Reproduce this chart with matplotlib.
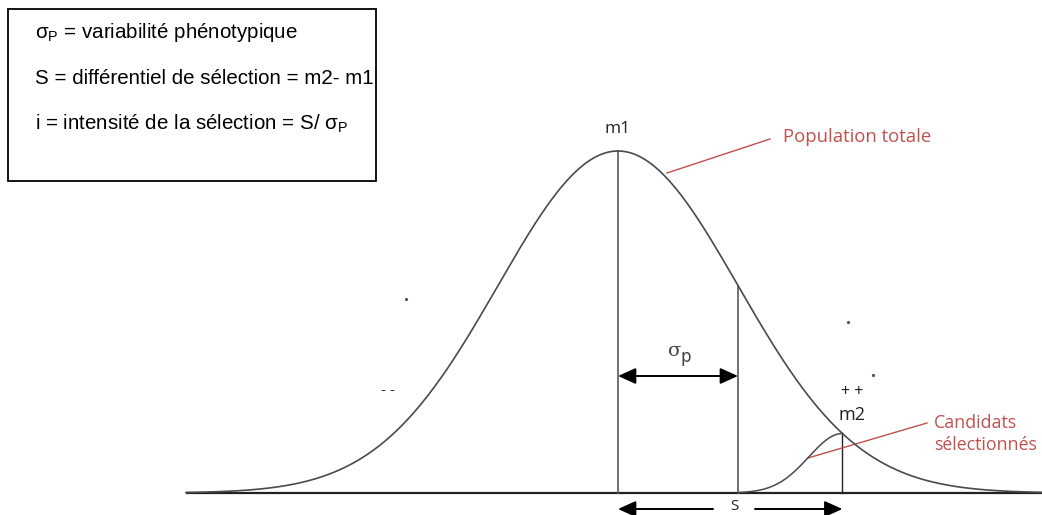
import numpy as np
import matplotlib
matplotlib.use("Agg")
import matplotlib.pyplot as plt
from matplotlib.patches import Rectangle

# ---- data (in units of phenotypic standard deviation) ----
m1 = 0.0              # mean of total population
sigma_p = 1.0         # phenotypic standard deviation
m2 = 1.87             # mean of selected candidates
sel_sigma = 0.28      # spread of selected candidates (rising side)
x_range = [-3.6, 3.55]
box_lines = [
    r"σ$_{\mathregular{P}}$ = variabilité phénotypique",
    "S = différentiel de sélection = m2- m1",
    r"i = intensité de la sélection = S/ σ$_{\mathregular{P}}$",
]
label_total = "Population totale"
label_sel = "Candidats\nsélectionnés"

plt.rcParams['mathtext.fontset'] = 'custom'
plt.rcParams['mathtext.rm'] = 'Liberation Sans'

W, H = 1042, 515
fig = plt.figure(figsize=(W / 100, H / 100), dpi=100)
ax = fig.add_axes([0, 0, 1, 1])
# pixel -> data helpers (120 px per sigma, 342 px per unit height)
X0, Y0, SX, SY = 618, 493, 120.0, 342.0
def X(px): return (px - X0) / SX
def Y(py): return (Y0 - py) / SY
ax.set_xlim(X(0), X(W))
ax.set_ylim(Y(H), Y(0))
ax.axis('off')

def gauss(x, mu, s):
    return np.exp(-0.5 * ((x - mu) / s) ** 2)

curve_col = '#4a4a4a'
vline_col = '#5a5a5a'
red = '#c0504d'

# baseline
ax.plot([x_range[0], X(W)], [0, 0], color='#222222', lw=1.6, solid_capstyle='butt', zorder=2)
# total population curve
xs = np.linspace(x_range[0], X(W) + 0.1, 800)
ax.plot(xs, gauss(xs, m1, sigma_p), color=curve_col, lw=1.2, zorder=3)

# selected candidates (rising half up to m2)
h_m2 = gauss(m2, m1, sigma_p)
xs2 = np.linspace(m1 + sigma_p, m2, 300)
ax.plot(xs2, h_m2 * gauss(xs2, m2, sel_sigma), color=curve_col, lw=1.1, zorder=3)

# vertical lines
ax.plot([m1, m1], [0, 1.0], color=vline_col, lw=1.2, zorder=2)
ax.plot([m1 + sigma_p, m1 + sigma_p], [0, gauss(m1 + sigma_p, m1, sigma_p)], color=vline_col, lw=1.2, zorder=2)
ax.plot([m2, m2], [0, h_m2], color='#222222', lw=1.0, zorder=2)

# sigma_p double arrow
ya = Y(376)
ax.annotate('', xy=(m1, ya), xytext=(m1 + sigma_p, ya),
            arrowprops=dict(arrowstyle='<|-|>,head_length=0.4,head_width=0.18',
                            color='black', lw=1.4, mutation_scale=27,
                            shrinkA=0, shrinkB=0))
ax.text(X(681), Y(351), "σ", family='DejaVu Serif', fontsize=14,
        ha='right', va='center', color='#444444')
ax.text(X(681), Y(357), "p", family='DejaVu Sans', fontsize=12,
        ha='left', va='center', color='#444444')

# S arrows
ys = Y(509)
ax.annotate('', xy=(m1, ys), xytext=(X(713), ys),
            arrowprops=dict(arrowstyle='-|>,head_length=0.4,head_width=0.18',
                            color='black', lw=1.4, mutation_scale=27,
                            shrinkA=0, shrinkB=0))
ax.annotate('', xy=(m2, ys), xytext=(X(755), ys),
            arrowprops=dict(arrowstyle='-|>,head_length=0.4,head_width=0.18',
                            color='black', lw=1.4, mutation_scale=27,
                            shrinkA=0, shrinkB=0))
ax.text(X(734), Y(507), "S", family='Open Sans', fontsize=11, ha='center', va='center', color='#222222')

# labels m1, m2, ++, --
ax.text(m1, Y(129), "m1", family='Open Sans', fontsize=12.5, ha='center', va='center', color='#222222')
ax.text(X(852), Y(415), "m2", family='Open Sans', fontsize=13, ha='center', va='center', color='#222222')
ax.text(X(852), Y(392), "+ +", family='Open Sans', fontsize=11.5, ha='center', va='center', color='#222222')
ax.text(X(388), Y(390), "- -", family='Open Sans', fontsize=11, ha='center', va='center', color='#333333')
for (px, py) in [(406, 299), (873, 375), (848, 322)]:
    ax.plot([X(px)], [Y(py)], marker='o', ms=1.3, color='#555555', lw=0)

# red annotation lines and labels
ax.plot([X(667), X(770)], [Y(173), Y(139)], color=red, lw=1.0)
ax.text(X(783), Y(137), label_total, family='Open Sans', fontsize=13.3, ha='left', va='center', color=red)
ax.plot([X(808), X(927)], [Y(458), Y(423)], color=red, lw=1.0)
ax.text(X(934), Y(434), label_sel, family='Open Sans', fontsize=12.8, ha='left', va='center',
        color=red, linespacing=1.3)

# text box
ax.add_patch(Rectangle((X(8), Y(181)), X(376) - X(8), Y(9) - Y(181), fill=True,
                       facecolor='white', edgecolor='black', lw=1.3, zorder=5))
for i, (t, py) in enumerate(zip(box_lines, [33, 79, 124])):
    ax.text(X(35), Y(py), t, family='Liberation Sans', fontsize=14.8, ha='left', va='center',
            color='black', zorder=6)

fig.savefig('out.png', dpi=100)
